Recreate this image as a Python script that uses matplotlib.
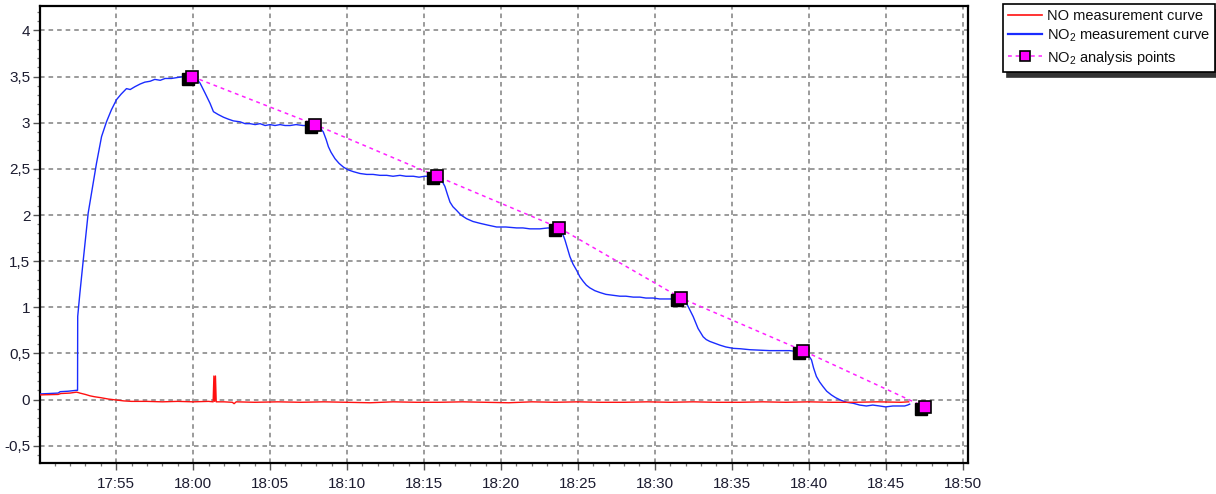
import matplotlib
matplotlib.use("Agg")
import matplotlib.pyplot as plt
from matplotlib.ticker import MultipleLocator, FuncFormatter
from matplotlib.transforms import offset_copy

plt.rcParams['font.family'] = ['Liberation Sans', 'DejaVu Sans']

# Time axis: minutes elapsed since 17:50
START_HOUR, START_MIN = 17, 50

# NO2 measurement curve
no2_t = [0.0, 1.23, 1.36, 1.88, 2.42, 2.49, 2.50, 2.64, 2.86, 3.18, 3.40, 3.72,
         4.05, 4.37, 4.69, 5.02, 5.32, 5.67, 5.91, 6.21, 6.56, 6.86, 7.21, 7.51,
         7.86, 8.18, 8.59, 8.96, 9.35, 9.68, 9.94, 10.19, 10.45, 10.78, 11.10,
         11.32, 11.62, 11.97, 12.27, 12.62, 13.05, 13.38, 13.70, 14.03, 14.35,
         14.68, 15.00, 15.32, 15.65, 15.97, 16.30, 16.69, 17.14, 17.53, 17.92,
         18.18, 18.46, 18.64, 18.79, 18.96, 19.22, 19.48, 19.76, 20.06, 20.41,
         20.84, 21.28, 21.69, 22.14, 22.58, 22.99, 23.44, 23.83, 24.31, 24.68,
         25.06, 25.45, 25.84, 26.10, 26.36, 26.53, 26.69, 26.88, 27.12, 27.40,
         27.77, 28.18, 28.64, 29.16, 29.72, 30.32, 31.02, 31.43, 31.88, 32.53,
         33.07, 33.44, 33.79, 33.96, 34.16, 34.32, 34.48, 34.68, 34.92, 35.13,
         35.35, 35.55, 35.78, 36.10, 36.43, 36.82, 37.29, 37.73, 38.12, 38.60,
         39.03, 39.42, 39.89, 40.32, 40.76, 41.17, 41.69, 41.95, 42.16, 42.34,
         42.49, 42.66, 42.81, 42.99, 43.14, 43.34, 43.57, 43.90, 44.22, 44.61,
         45.08, 45.58, 46.17, 46.82, 47.47, 48.12, 48.77, 49.22, 49.61, 49.87,
         50.18, 50.32, 50.50, 50.71, 50.93, 51.17, 51.47, 51.75, 52.12, 52.47,
         52.88, 53.31, 53.75, 54.16, 54.61, 55.00, 55.47, 55.84, 56.23, 56.43,
         56.56]
no2_v = [0.06, 0.07, 0.085, 0.09, 0.10, 0.10, 0.90, 1.15, 1.51, 2.02, 2.24, 2.56,
         2.85, 3.01, 3.14, 3.25, 3.31, 3.37, 3.36, 3.39, 3.42, 3.44, 3.45, 3.47,
         3.46, 3.48, 3.48, 3.49, 3.50, 3.50, 3.50, 3.48, 3.43, 3.32, 3.21,
         3.12, 3.09, 3.06, 3.04, 3.02, 3.01, 2.99, 2.99, 2.98, 2.99,
         2.97, 2.98, 2.97, 2.98, 2.97, 2.97, 2.98, 2.97, 2.97, 2.98,
         2.96, 2.90, 2.82, 2.74, 2.68, 2.61, 2.56, 2.52, 2.49, 2.47,
         2.45, 2.44, 2.44, 2.43, 2.43, 2.42, 2.43, 2.42, 2.42, 2.41,
         2.42, 2.42, 2.42, 2.39, 2.31, 2.22, 2.14, 2.09, 2.05, 2.00,
         1.96, 1.93, 1.91, 1.89, 1.87, 1.87, 1.86, 1.86, 1.85, 1.85,
         1.86, 1.85, 1.86, 1.82, 1.73, 1.64, 1.55, 1.47, 1.40, 1.33,
         1.28, 1.24, 1.21, 1.18, 1.16, 1.14, 1.13, 1.12, 1.12, 1.11,
         1.11, 1.10, 1.10, 1.09, 1.09, 1.09, 1.10, 1.07, 1.01, 0.95,
         0.90, 0.83, 0.77, 0.72, 0.68, 0.65, 0.63, 0.61, 0.59, 0.57,
         0.555, 0.55, 0.54, 0.535, 0.53, 0.53, 0.53, 0.52, 0.53, 0.51,
         0.43, 0.34, 0.25, 0.19, 0.14, 0.09, 0.05, 0.02, -0.01, -0.03,
         -0.04, -0.06, -0.07, -0.06, -0.07, -0.08, -0.07, -0.07, -0.07, -0.06,
         -0.05]

# NO measurement curve
no_t = [0.0, 1.23, 1.40, 2.00, 2.42, 2.55, 2.64, 3.00, 3.30, 3.60, 4.00, 4.50,
        5.00, 5.50, 6.00, 7.00, 8.00, 9.00, 10.00, 11.00, 11.30, 11.35, 11.40,
        11.45, 11.50, 12.00, 12.55, 12.66, 12.80, 14.00, 15.50, 17.00, 18.50,
        20.00, 21.50, 23.00, 24.50, 26.00, 27.50, 29.00, 30.50, 32.00, 33.50,
        35.00, 36.50, 38.00, 39.50, 41.00, 42.50, 44.00, 45.50, 47.00, 48.50,
        50.00, 51.50, 53.00, 54.50, 56.00, 56.50]
no_v = [0.05, 0.055, 0.065, 0.07, 0.08, 0.075, 0.07, 0.055, 0.04, 0.03, 0.02, 0.005,
        -0.005, -0.015, -0.02, -0.02, -0.025, -0.02, -0.025, -0.02, -0.025, 0.255, -0.02,
        0.255, -0.025, -0.025, -0.03, -0.045, -0.025, -0.03, -0.025, -0.03, -0.025,
        -0.03, -0.035, -0.025, -0.03, -0.03, -0.025, -0.03, -0.035, -0.025, -0.03,
        -0.025, -0.03, -0.03, -0.025, -0.03, -0.025, -0.03, -0.03, -0.025, -0.03,
        -0.025, -0.03, -0.03, -0.025, -0.03, -0.025]

# NO2 analysis points
pts_t = [9.94, 17.92, 25.84, 33.79, 41.70, 49.62, 57.53]
pts_v = [3.50, 2.98, 2.42, 1.86, 1.10, 0.53, -0.08]


def clock_label(v, pos=None):
    total = START_HOUR * 60 + START_MIN + int(round(v))
    return f"{total // 60}:{total % 60:02d}"


def comma_label(v, pos=None):
    return f"{v:g}".replace(".", ",")


W, H = 1216, 494
fig = plt.figure(figsize=(W / 100, H / 100), dpi=100, facecolor="white")
ax = fig.add_axes([40 / W, 31 / H, 928 / W, 456.5 / H])

ax.set_xlim(0.05, 60.35)
ax.set_ylim(-0.688, 4.26)

ax.xaxis.set_major_locator(MultipleLocator(5))
ax.xaxis.set_minor_locator(MultipleLocator(1))
ax.xaxis.set_major_formatter(FuncFormatter(clock_label))
ax.yaxis.set_major_locator(MultipleLocator(0.5))
ax.yaxis.set_minor_locator(MultipleLocator(0.1))
ax.yaxis.set_major_formatter(FuncFormatter(comma_label))

label_color = "#1c1c30"
ax.tick_params(axis="both", which="major", length=5, width=1.0, color="#555555",
               labelsize=11, labelcolor=label_color, direction="out")
ax.tick_params(axis="both", which="minor", length=2.5, width=0.9, color="#777777",
               direction="out")
ax.tick_params(axis="x", which="major", pad=5)
ax.tick_params(axis="y", which="major", pad=2)

for sp in ax.spines.values():
    sp.set_linewidth(1.6)
    sp.set_color("black")

ax.set_axisbelow(True)
ax.grid(which="major", color="#808080", linestyle=(0, (3, 2.6)), linewidth=1.1)

ax.plot(no2_t, no2_v, color="#1a2cff", lw=1.0, label="NO$_\\mathregular{2}$ measurement curve", zorder=3)
ax.plot(no_t, no_v, color="#ff1010", lw=1.0, label="NO measurement curve", zorder=3)
ax.plot(pts_t, pts_v, color="#ff22ff", lw=1.1, linestyle=(0, (2.5, 2.5)), zorder=4)

# square markers with a dark drop shadow
shadow_tr = offset_copy(ax.transData, fig=fig, x=-4, y=-2, units="dots")
ax.plot(pts_t, pts_v, linestyle="none", marker="s", markersize=9, color="black",
        transform=shadow_tr, zorder=5, clip_on=False)
ax.plot(pts_t, pts_v, linestyle="none", marker="s", markersize=8.5,
        markerfacecolor="#ff00ff", markeredgecolor="black", markeredgewidth=1.2,
        zorder=6, clip_on=False)

# legend entries
h_no, = ax.plot([], [], color="#ff1010", lw=1.2)
h_no2, = ax.plot([], [], color="#1a2cff", lw=1.6)
h_pts, = ax.plot([], [], color="#ff22ff", lw=1.1, linestyle=(0, (2.5, 2.5)), marker="s",
                 markersize=7, markerfacecolor="#ff00ff", markeredgecolor="black",
                 markeredgewidth=1.2)
leg = fig.legend([h_no, h_no2, h_pts],
                 ["NO measurement curve", "NO$_\\mathregular{2}$ measurement curve",
                  "NO$_\\mathregular{2}$ analysis points"],
                 loc="upper left", bbox_to_anchor=(1003 / W, 1 - 4 / H),
                 fontsize=10.5, frameon=True, fancybox=False, edgecolor="black",
                 framealpha=1, handlelength=2.3, handletextpad=0.4, labelspacing=0.3,
                 borderpad=0.35, borderaxespad=0,
                 shadow={"ox": 3, "oy": -4, "color": "#333333", "alpha": 1})
leg.get_frame().set_linewidth(1.2)
for t in leg.get_texts():
    t.set_color("#111111")

fig.savefig("out.png", dpi=100, facecolor="white")
